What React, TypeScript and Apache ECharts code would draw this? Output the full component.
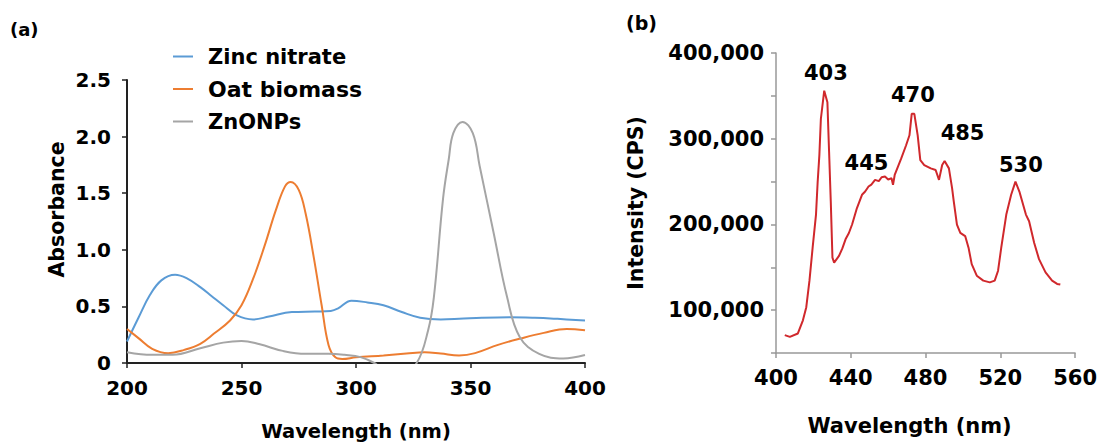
import React, { useEffect, useRef } from "react";
import * as echarts from "echarts";

// Panel (a): UV-Vis absorbance, [wavelength nm, absorbance]
const zincNitrate: [number, number][] = [
  [200, 0.19], [205, 0.4], [210, 0.6], [215, 0.73], [221, 0.78], [226, 0.75], [232, 0.67],
  [237, 0.59], [242, 0.51], [248, 0.42], [255, 0.385], [262, 0.41], [272, 0.45],
  [282, 0.455], [289, 0.46], [292, 0.48], [298, 0.55], [305, 0.535], [312, 0.51],
  [320, 0.45], [328, 0.4], [337, 0.385], [345, 0.39], [355, 0.4], [367, 0.405],
  [378, 0.4], [388, 0.39], [400, 0.375],
];
const oatBiomass: [number, number][] = [
  [200, 0.3], [205, 0.22], [211, 0.125], [218, 0.087], [225, 0.116], [232, 0.17],
  [238, 0.26], [245, 0.376], [250, 0.51], [255, 0.74], [260, 1.03], [265, 1.35],
  [269, 1.56], [271.5, 1.6], [275, 1.53], [278, 1.32], [281.5, 0.94], [285, 0.51],
  [288, 0.16], [291, 0.05], [294, 0.035], [300, 0.05], [312, 0.067], [322, 0.084],
  [330, 0.096], [337, 0.084], [345, 0.067], [352, 0.087], [362, 0.16], [372, 0.217],
  [382, 0.266], [392, 0.3], [400, 0.29],
];
const znoNps: [number, number][] = [
  [200, 0.095], [211, 0.072], [220, 0.072], [232, 0.13], [242, 0.18], [250, 0.195],
  [258, 0.165], [268, 0.107], [278, 0.081], [288, 0.081], [295, 0.072], [302, 0.052],
  [308, 0.0], [314, -0.08], [320, -0.08], [326.5, 0.0], [331.5, 0.29], [334, 0.58],
  [338, 1.45], [340.5, 1.8], [342.5, 2.03], [346.5, 2.13], [351, 2.03], [354, 1.74],
  [360, 1.16], [366, 0.58], [371.5, 0.23], [380, 0.08], [390.5, 0.04], [400, 0.07],
];

// Panel (b): photoluminescence, [wavelength nm, intensity CPS]
const plSpectrum: [number, number][] = [
  [404.7, 70800], [407.4, 68800], [411.7, 72800], [414.4, 88100], [416.2, 103500],
  [417.9, 134400], [419.6, 172900], [421.4, 211500], [422.3, 250000], [423.2, 280900],
  [424.0, 323000], [425.8, 356000], [427.5, 342500], [428.4, 284700], [429.3, 227000],
  [430.2, 161300], [431.1, 155500], [433.7, 163300], [435.5, 172000], [437.2, 182600],
  [439.0, 190000], [440.7, 199900], [443.3, 219100], [446.0, 234600], [447.7, 238400],
  [449.5, 244200], [451.0, 246500], [453.0, 252000], [455.0, 250500], [456.5, 255000],
  [458.3, 255800], [460.0, 252500], [461.8, 253800], [462.6, 246200], [463.5, 257700],
  [467.0, 277000], [469.6, 292400], [471.4, 304000], [472.6, 329000], [474.0, 329000],
  [475.8, 304000], [477.2, 275000], [479.3, 269300], [482.8, 265400], [485.4, 263500],
  [487.2, 252000], [488.9, 269300], [490.2, 273900], [492.5, 265400], [494.2, 242300],
  [495.1, 226900], [496.8, 199900], [498.6, 190200], [501.2, 186400], [503.0, 172900],
  [504.7, 153700], [507.4, 140200], [510.9, 134400], [514.4, 132400], [517.0, 134400],
  [518.8, 146000], [520.5, 172900], [523.2, 211500], [525.8, 234600], [528.1, 250000],
  [530.2, 238400], [533.7, 211500], [535.4, 203700], [538.1, 178700], [540.7, 159500],
  [544.2, 144000], [547.7, 134400], [550.4, 130600], [552.1, 129800],
];
const peakNames = ["403", "445", "470", "485", "530"];
const peakLabelX = [426.7, 448.4, 473.2, 499.8, 531];
const peakLabelY = [377000, 272000, 351000, 306600, 269600];

const FONT = "DejaVu Sans, sans-serif";

export default function App() {
  const ref = useRef<HTMLDivElement>(null);
  useEffect(() => {
    document.body.style.margin = "0";
    if (!ref.current) return;
    const chart = echarts.init(ref.current, undefined, { renderer: "svg" });
    const boldText = (size: number) => ({
      color: "#000",
      fontWeight: "bold" as const,
      fontSize: size,
      fontFamily: FONT,
    });
    const lineIcon = "path://M0,0 H20 V2 H0 Z";
    chart.setOption({
      animation: false,
      backgroundColor: "#fff",
      textStyle: { fontFamily: FONT },
      graphic: [
        { type: "text", left: 10, top: 20, style: { text: "(a)", fontWeight: "bold", fontSize: 18, fontFamily: FONT, fill: "#000" } },
        { type: "text", left: 626, top: 13, style: { text: "(b)", fontWeight: "bold", fontSize: 19, fontFamily: FONT, fill: "#000" } },
      ],
      legend: {
        left: 168,
        top: 41,
        orient: "vertical",
        itemWidth: 20,
        itemHeight: 2,
        itemGap: 11,
        data: [
          { name: "Zinc nitrate", icon: lineIcon },
          { name: "Oat biomass", icon: lineIcon, textStyle: { fontSize: 22 } },
          { name: "ZnONPs", icon: lineIcon },
        ],
        textStyle: { ...boldText(21), padding: [0, 0, 0, 10] },
      },
      grid: [
        { left: 127, right: 515, top: 80, bottom: 78 },
        { left: 776, right: 20, top: 53, bottom: 93 },
      ],
      xAxis: [
        {
          gridIndex: 0,
          type: "value",
          min: 200,
          max: 400,
          interval: 50,
          name: "Wavelength (nm)",
          nameLocation: "middle",
          nameGap: 58,
          nameTextStyle: boldText(19.5),
          axisLine: { lineStyle: { color: "#222", width: 2 } },
          axisTick: { show: true, length: 5, lineStyle: { color: "#222", width: 1.5 } },
          axisLabel: { ...boldText(20), margin: 15 },
          splitLine: { show: false },
        },
        {
          gridIndex: 1,
          type: "value",
          min: 400,
          max: 560,
          interval: 40,
          name: "Wavelength (nm)",
          nameLocation: "middle",
          nameGap: 62,
          nameTextStyle: { ...boldText(21), padding: [0, 32, 0, 0] },
          axisLine: { lineStyle: { color: "#999", width: 1.5 } },
          axisTick: { show: true, length: 5, lineStyle: { color: "#999", width: 1.5 } },
          axisLabel: { ...boldText(21), margin: 14 },
          splitLine: { show: false },
        },
      ],
      yAxis: [
        {
          gridIndex: 0,
          type: "value",
          min: 0,
          max: 2.5,
          interval: 0.5,
          name: "Absorbance",
          nameLocation: "middle",
          nameGap: 60,
          nameTextStyle: { ...boldText(20.5), padding: [0, 0, 0, 24] },
          axisLine: { show: true, lineStyle: { color: "#222", width: 2 } },
          axisTick: { show: true, length: 5, lineStyle: { color: "#222", width: 1.5 } },
          axisLabel: {
            ...boldText(20),
            margin: 16,
            formatter: (v: number) => (v === 0 ? "0" : v.toFixed(1)),
          },
          splitLine: { show: false },
        },
        {
          gridIndex: 1,
          type: "value",
          min: 50000,
          max: 400000,
          interval: 50000,
          name: "Intensity (CPS)",
          nameLocation: "middle",
          nameGap: 130,
          nameTextStyle: boldText(20.5),
          axisLine: { show: true, lineStyle: { color: "#999", width: 1.5 } },
          axisTick: { show: true, length: 5, lineStyle: { color: "#999", width: 1.5 } },
          axisLabel: {
            ...boldText(21),
            margin: 12,
            formatter: (v: number) => (v % 100000 === 0 ? v.toLocaleString("en-US") : ""),
          },
          splitLine: { show: false },
        },
      ],
      series: [
        {
          name: "Zinc nitrate",
          type: "line",
          xAxisIndex: 0,
          yAxisIndex: 0,
          data: zincNitrate,
          smooth: 0.4,
          symbol: "none",
          color: "#5b9bd5",
          lineStyle: { width: 2, color: "#5b9bd5" },
        },
        {
          name: "Oat biomass",
          type: "line",
          xAxisIndex: 0,
          yAxisIndex: 0,
          data: oatBiomass,
          smooth: 0.4,
          symbol: "none",
          color: "#ed7d31",
          lineStyle: { width: 2, color: "#ed7d31" },
        },
        {
          name: "ZnONPs",
          type: "line",
          xAxisIndex: 0,
          yAxisIndex: 0,
          data: znoNps,
          smooth: 0.4,
          symbol: "none",
          clip: true,
          color: "#a5a5a5",
          lineStyle: { width: 2, color: "#a5a5a5" },
        },
        {
          name: "PL",
          type: "line",
          xAxisIndex: 1,
          yAxisIndex: 1,
          data: plSpectrum,
          symbol: "none",
          color: "#d0282c",
          lineStyle: { width: 2, color: "#d0282c" },
        },
        {
          name: "Peaks",
          type: "scatter",
          xAxisIndex: 1,
          yAxisIndex: 1,
          symbolSize: 0.1,
          itemStyle: { color: "#000" },
          emphasis: { disabled: true },
          data: peakNames.map((n, i) => ({ name: n, value: [peakLabelX[i], peakLabelY[i]] })),
          label: {
            show: true,
            position: "inside",
            formatter: "{b}",
            ...boldText(21),
            textBorderWidth: 0,
            opacity: 1,
          },
        },
      ],
    });
    return () => chart.dispose();
  }, []);
  return <div ref={ref} style={{ width: 1100, height: 446 }} />;
}
